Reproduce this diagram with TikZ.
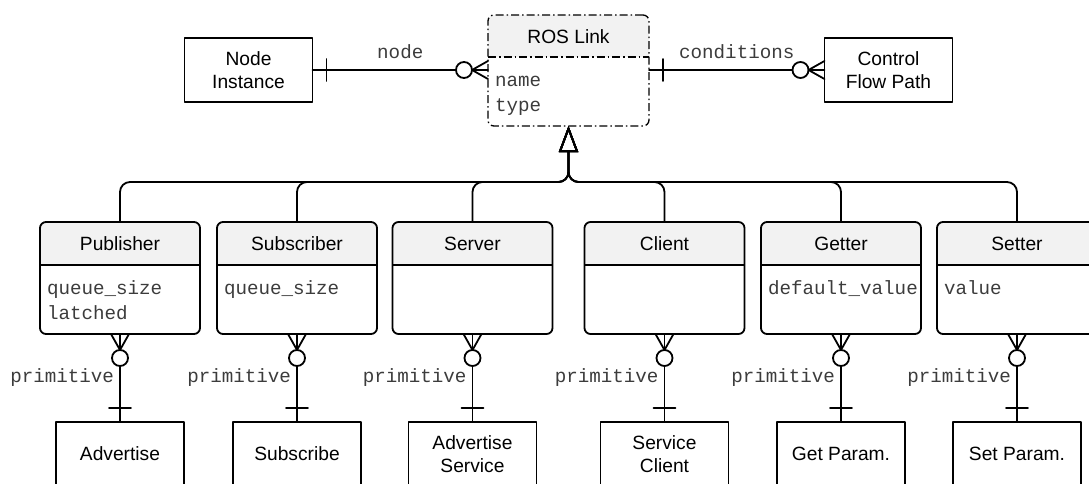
\documentclass[tikz,border=0pt]{standalone}
\usepackage{fontspec}
\setmainfont{Liberation Sans}
\setmonofont{Liberation Mono}
\usetikzlibrary{arrows.meta,decorations.markings}
\definecolor{headgray}{RGB}{242,242,242}
\definecolor{attrgray}{RGB}{60,60,60}
\newcommand\erfont{\fontsize{19.2}{23}\selectfont}
\newcommand\attrfont{\ttfamily\fontsize{19.2}{25}\selectfont\color{attrgray}}
\begin{document}
\begin{tikzpicture}[x=1pt, y=-1pt, line width=1.8pt, line cap=round, line join=round, inner sep=0pt, outer sep=0pt, font=\erfont,
	ent/.style={draw, minimum width=128pt, minimum height=64pt, align=center},
	cls/.style={draw, rounded corners=6pt, minimum width=160pt, minimum height=112pt,
		path picture={
			\fill[headgray, sharp corners] (path picture bounding box.north west) rectangle ([yshift=-43pt]path picture bounding box.north east);
			\draw[sharp corners] ([yshift=-43pt]path picture bounding box.north west) -- ([yshift=-43pt]path picture bounding box.north east);}},
	linkbox/.style={cls, line width=1.3pt, line cap=butt, dash pattern=on 8pt off 3pt on 1.5pt off 3pt,
		path picture={
			\fill[headgray, sharp corners] (path picture bounding box.north west) rectangle ([yshift=-42pt]path picture bounding box.north east);
			\draw[sharp corners, line width=1.3pt, line cap=butt, dash pattern=on 8pt off 3pt on 1.5pt off 3pt] ([yshift=-42pt]path picture bounding box.north west) -- ([yshift=-42pt]path picture bounding box.north east);}},
	clstitle/.style={anchor=base, yshift=-28.5pt},
	attr/.style={anchor=north west, xshift=7pt, yshift=-54.5pt, align=left, font=\attrfont},
	lbl/.style={font=\attrfont},
	erline/.style={postaction={decorate}, decoration={markings,
		mark=at position 14pt with {\draw (0pt,-11pt) -- (0pt,11pt);},
		mark=at position -24pt with {\draw[fill=white] (0pt,0pt) circle (8pt);
			\draw (8pt,0pt) -- (24pt,-9pt) (8pt,0pt) -- (24pt,9pt);}}},
	inherit/.style={rounded corners=10pt, {Triangle[open, length=26pt, width=19pt]}-}]
	
	\path[use as bounding box, clip] (0,0) rectangle (1089,484);
	
	% ROS Link and its two partners
	\node[linkbox, minimum width=161pt, minimum height=111pt] (link) at (568.5,70.5) {};
	\node[clstitle] (link-t) at (link.north) {ROS Link};
	\node[attr] (link-a) at (link.north west) {\strut name\\\strut type};
	\node[ent] (inst) at (248.5,70) {Node\\Instance};
	\node[ent] (cfp) at (888.5,70) {Control\\Flow Path};
	
	\draw[erline] (inst.east) -- node[lbl, above=11pt] (inst-l) {node} (inst.east -| link.west);
	\draw[erline] (link.east |- cfp.west) -- node[lbl, above=11pt] (cfp-l) {conditions} (cfp.west);
	
	% link kinds
	\node[cls] (pub) at (120,278) {};
	\node[clstitle] (pub-t) at (pub.north) {Publisher};
	\node[attr] (pub-a) at (pub.north west) {\strut queue\_size\\\strut latched};
	
	\node[cls] (sub) at (297,278) {};
	\node[clstitle] (sub-t) at (sub.north) {Subscriber};
	\node[attr] (sub-a) at (sub.north west) {\strut queue\_size};
	
	\node[cls] (srv) at (472.5,278) {};
	\node[clstitle] (srv-t) at (srv.north) {Server};
	
	\node[cls] (cli) at (664.5,278) {};
	\node[clstitle] (cli-t) at (cli.north) {Client};
	
	\node[cls] (get) at (841,278) {};
	\node[clstitle] (get-t) at (get.north) {Getter};
	\node[attr] (get-a) at (get.north west) {\strut default\_value};
	
	\node[cls] (set) at (1017,278) {};
	\node[clstitle] (set-t) at (set.north) {Setter};
	\node[attr] (set-a) at (set.north west) {\strut value};
	
	% inheritance
	\draw[inherit] (link.south) -- ++(0,56) -| (pub.north);
	\draw[inherit] (link.south) -- ++(0,56) -| (sub.north);
	\draw[inherit] (link.south) -- ++(0,56) -| (srv.north);
	\draw[inherit] (link.south) -- ++(0,56) -| (cli.north);
	\draw[inherit] (link.south) -- ++(0,56) -| (get.north);
	\draw[inherit] (link.south) -- ++(0,56) -| (set.north);
	
	% primitives
	\node[ent] (adv) at (120,454) {Advertise};
	\node[ent] (subs) at (297,454) {Subscribe};
	\node[ent] (advsrv) at (472.5,454) {Advertise\\Service};
	\node[ent] (srvcli) at (664.5,454) {Service\\Client};
	\node[ent] (getp) at (841,454) {Get Param.};
	\node[ent] (setp) at (1017,454) {Set Param.};
	
	\draw[erline] (adv.north) -- node[lbl, left=6pt] (adv-l) {primitive} (pub.south);
	\draw[erline] (subs.north) -- node[lbl, left=6pt] (subs-l) {primitive} (sub.south);
	\draw[erline] (advsrv.north) -- node[lbl, left=6pt] (advsrv-l) {primitive} (srv.south);
	\draw[erline] (srvcli.north) -- node[lbl, left=6pt] (srvcli-l) {primitive} (cli.south);
	\draw[erline] (getp.north) -- node[lbl, left=6pt] (getp-l) {primitive} (get.south);
	\draw[erline] (setp.north) -- node[lbl, left=6pt] (setp-l) {primitive} (set.south);
	
\end{tikzpicture}
\end{document}
